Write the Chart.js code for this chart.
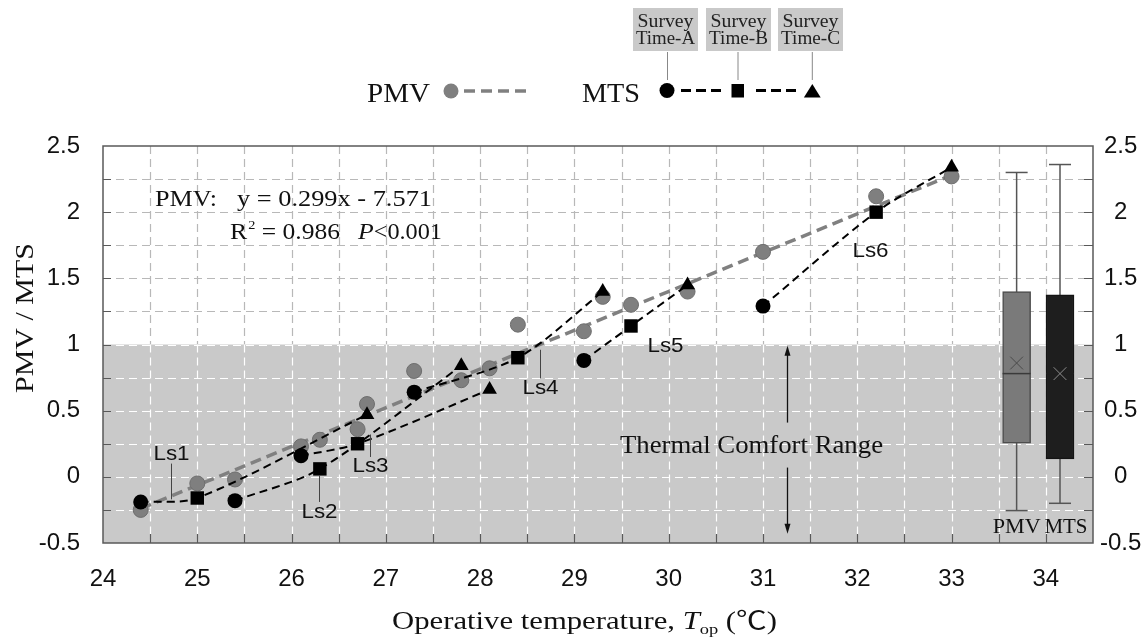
<!DOCTYPE html>
<html>
<head>
<meta charset="utf-8">
<script src="https://cdn.jsdelivr.net/npm/chart.js@4.4.1/dist/chart.umd.min.js"></script>
<style>
  html, body { margin: 0; padding: 0; background: #fff; }
</style>
</head>
<body>
<canvas id="chart" width="1147" height="638"></canvas>
<script>
// PMV points (operative temperature, PMV)
const pmvTemp  = [24.4, 25.0, 25.4, 26.1, 26.3, 26.7, 26.8, 27.3, 27.8, 28.1, 28.4, 29.1, 29.3, 29.6, 30.2, 31.0, 32.2, 33.0];
const pmvValue = [-0.25, -0.05, -0.02, 0.23, 0.28, 0.36, 0.55, 0.80, 0.73, 0.82, 1.15, 1.10, 1.36, 1.30, 1.40, 1.70, 2.12, 2.27];

// fitted PMV line (y = 0.299x - 7.571), end points as drawn
const pmvFitTemp  = [24.4, 33.0];
const pmvFitValue = [-0.24, 2.28];

// MTS for the six lines Ls1..Ls6 at survey times A, B, C
const lsNames  = ['Ls1', 'Ls2', 'Ls3', 'Ls4', 'Ls5', 'Ls6'];
const mtsTempA = [24.4, 25.4, 26.1, 27.3, 29.1, 31.0];
const mtsA     = [-0.19, -0.18, 0.16, 0.64, 0.88, 1.29];
const mtsTempB = [25.0, 26.3, 26.7, 28.4, 29.6, 32.2];
const mtsB     = [-0.16, 0.06, 0.25, 0.90, 1.14, 2.00];
const mtsTempC = [26.8, 27.8, 28.1, 29.3, 30.2, 33.0];
const mtsC     = [0.47, 0.84, 0.66, 1.40, 1.45, 2.34];

// box plot summaries
const boxNames  = ['PMV', 'MTS'];
const boxPos    = [33.69, 34.15];
const boxMin    = [-0.255, -0.20];
const boxQ1     = [0.255, 0.136];
const boxMedian = [0.78, 0.78];
const boxQ3     = [1.40, 1.375];
const boxMax    = [2.30, 2.36];
const boxMean   = [0.86, 0.78];

const comfortRange = [-0.5, 1];

const SERIF = '"Liberation Serif", "Times New Roman", "Noto Sans CJK SC", serif';
const SANS = '"Liberation Sans", Arial, sans-serif';

// text helper, optional horizontal fit to a width
function drawText(ctx, s, x, y, font, opt) {
    opt = opt || {};
    ctx.save();
    ctx.font = font;
    ctx.fillStyle = opt.color || '#111';
    ctx.textBaseline = opt.baseline || 'alphabetic';
    ctx.textAlign = opt.align || 'left';
    const w = ctx.measureText(s).width;
    const sx = opt.width ? opt.width / w : (opt.stretch || 1);
    ctx.translate(x, y);
    if (opt.rotate) ctx.rotate(opt.rotate);
    ctx.scale(sx, 1);
    ctx.fillText(s, 0, 0);
    ctx.restore();
    return w * sx;
}

function dashSeg(ctx, x1, x2, y, dash, gap) {
    for (let p = x1; p < x2; p += dash + gap) {
        ctx.beginPath();
        ctx.moveTo(p, y);
        ctx.lineTo(Math.min(p + dash, x2), y);
        ctx.stroke();
    }
}

const decor = {
    id: 'decor',
    beforeDatasetsDraw(chart) {
        const { ctx, chartArea: a, scales: { x, y } } = chart;
        ctx.save();
        const yTop = y.getPixelForValue(comfortRange[1]);
        const yBot = y.getPixelForValue(comfortRange[0]);
        ctx.fillStyle = '#c9c9c9';
        ctx.fillRect(a.left, yTop, a.right - a.left, yBot - yTop);

        ctx.lineWidth = 1.2;
        ctx.setLineDash([8, 5]);
        y.ticks.forEach(t => {
            if (t.value <= y.min || t.value >= y.max) return;
            const py = Math.round(y.getPixelForValue(t.value)) + 0.5;
            ctx.strokeStyle = t.value <= comfortRange[1] ? '#ffffff' : '#b8b8b8';
            ctx.beginPath(); ctx.moveTo(a.left, py); ctx.lineTo(a.right, py); ctx.stroke();
        });
        x.ticks.forEach(t => {
            if (t.value <= x.min || t.value >= x.max) return;
            const px = Math.round(x.getPixelForValue(t.value)) + 0.5;
            ctx.strokeStyle = '#b8b8b8';
            ctx.beginPath(); ctx.moveTo(px, a.top); ctx.lineTo(px, yTop); ctx.stroke();
            ctx.strokeStyle = '#ffffff';
            ctx.beginPath(); ctx.moveTo(px, yTop); ctx.lineTo(px, a.bottom); ctx.stroke();
        });
        ctx.restore();
    },
    afterDatasetsDraw(chart) {
        const { ctx, chartArea: a, scales: { x, y } } = chart;
        ctx.save();

        // frame and inner ticks
        ctx.strokeStyle = '#595959';
        ctx.lineWidth = 1.5;
        ctx.strokeRect(a.left, a.top, a.right - a.left, a.bottom - a.top);
        ctx.lineWidth = 1.2;
        y.ticks.forEach(t => {
            if (t.value <= y.min || t.value >= y.max) return;
            const py = Math.round(y.getPixelForValue(t.value)) + 0.5;
            ctx.beginPath();
            ctx.moveTo(a.left, py); ctx.lineTo(a.left + 8, py);
            ctx.moveTo(a.right - 9, py); ctx.lineTo(a.right, py);
            ctx.stroke();
        });
        x.ticks.forEach(t => {
            if (t.value <= x.min || t.value >= x.max) return;
            const px = Math.round(x.getPixelForValue(t.value)) + 0.5;
            ctx.beginPath(); ctx.moveTo(px, a.bottom); ctx.lineTo(px, a.bottom - 9); ctx.stroke();
        });

        // regression text
        drawText(ctx, 'PMV:', 155, 206, '23px ' + SERIF, { width: 62 });
        drawText(ctx, 'y = 0.299x - 7.571', 237, 206, '23px ' + SERIF, { width: 195 });
        let cx = 230;
        cx += drawText(ctx, 'R', cx, 239, '23px ' + SERIF, { stretch: 1.12 });
        cx += drawText(ctx, '2', cx + 1, 229, '13px ' + SERIF, { stretch: 1.1 }) + 1;
        drawText(ctx, ' = 0.986', cx, 239, '23px ' + SERIF, { width: 340 - cx });
        cx = 358;
        cx += drawText(ctx, 'P', cx, 239, 'italic 23px ' + SERIF, { stretch: 1.12 });
        drawText(ctx, '<0.001', cx, 239, '23px ' + SERIF, { width: 442 - cx });

        // thermal comfort range
        drawText(ctx, 'Thermal Comfort Range', 620, 453, '26px ' + SERIF, { width: 263 });
        const ax = Math.round(x.getPixelForValue(31.25)) + 0.5;
        ctx.strokeStyle = '#111'; ctx.fillStyle = '#111'; ctx.lineWidth = 1.3;
        const up1 = y.getPixelForValue(0.41), up2 = y.getPixelForValue(0.99);
        const dn1 = y.getPixelForValue(0.07), dn2 = y.getPixelForValue(-0.43);
        ctx.beginPath(); ctx.moveTo(ax, up1); ctx.lineTo(ax, up2 + 8); ctx.stroke();
        ctx.beginPath(); ctx.moveTo(ax, up2); ctx.lineTo(ax - 3, up2 + 10); ctx.lineTo(ax + 3, up2 + 10); ctx.closePath(); ctx.fill();
        ctx.beginPath(); ctx.moveTo(ax, dn1); ctx.lineTo(ax, dn2 - 8); ctx.stroke();
        ctx.beginPath(); ctx.moveTo(ax, dn2); ctx.lineTo(ax - 3, dn2 - 10); ctx.lineTo(ax + 3, dn2 - 10); ctx.closePath(); ctx.fill();

        // Ls labels with leader lines
        const lsLabels = [
            { tx: 24.72, ty: 0.166, l1: 0.10, l2: -0.17 },
            { tx: 26.29, ty: -0.27, l1: 0.01, l2: -0.19 },
            { tx: 26.83, ty: 0.08, l1: 0.32, l2: 0.15 },
            { tx: 28.63, ty: 0.67, l1: 0.96, l2: 0.745 },
            { tx: 29.96, ty: 0.985 },
            { tx: 32.13, ty: 1.70 }
        ];
        ctx.strokeStyle = '#444'; ctx.lineWidth = 1;
        lsLabels.forEach((p, i) => {
            const px = Math.round(x.getPixelForValue(p.tx)) + 0.5;
            if (p.l1 !== undefined) {
                ctx.beginPath();
                ctx.moveTo(px, y.getPixelForValue(p.l1));
                ctx.lineTo(px, y.getPixelForValue(p.l2));
                ctx.stroke();
            }
            drawText(ctx, lsNames[i], px, y.getPixelForValue(p.ty), '20px ' + SANS,
                { align: 'center', baseline: 'middle', stretch: 1.12, color: '#111' });
        });

        // box labels
        drawText(ctx, boxNames[0], x.getPixelForValue(boxPos[0]), 533, '21px ' + SERIF, { align: 'center', width: 48 });
        drawText(ctx, boxNames[1], x.getPixelForValue(boxPos[1]) + 6, 533, '21px ' + SERIF, { align: 'center', width: 43 });

        ctx.restore();
    },
    afterDraw(chart) {
        const { ctx } = chart;
        ctx.save();
        // axis titles
        drawText(ctx, 'PMV / MTS', 33, 318, '26px ' + SERIF, { align: 'center', rotate: -Math.PI / 2, width: 150 });
        const parts = [
            { s: 'Operative temperature, ', f: '25px ' + SERIF, dy: 0 },
            { s: 'T', f: 'italic 25px ' + SERIF, dy: 0 },
            { s: 'op', f: '15px ' + SERIF, dy: 5 },
            { s: ' (\u2103)', f: '25px ' + SERIF, dy: 0 }
        ];
        let total = 0;
        parts.forEach(p => { ctx.font = p.f; p.w = ctx.measureText(p.s).width; total += p.w; });
        const k = 385 / total;
        let px = 392;
        parts.forEach(p => { drawText(ctx, p.s, px, 629 + p.dy, p.f, { stretch: k }); px += p.w * k; });

        // legend
        drawText(ctx, 'PMV', 367, 101.5, '28px ' + SERIF, { width: 63 });
        ctx.fillStyle = '#7f7f7f';
        ctx.beginPath(); ctx.arc(451, 91, 7.5, 0, Math.PI * 2); ctx.fill();
        ctx.strokeStyle = '#808080'; ctx.lineWidth = 3.5;
        dashSeg(ctx, 464, 528, 91, 11, 6);

        drawText(ctx, 'MTS', 582, 101.5, '28px ' + SERIF, { width: 58 });
        ctx.fillStyle = '#000'; ctx.strokeStyle = '#000'; ctx.lineWidth = 3;
        ctx.beginPath(); ctx.arc(667, 90.5, 7.5, 0, Math.PI * 2); ctx.fill();
        dashSeg(ctx, 681, 725, 90.5, 10, 5);
        ctx.fillRect(731.5, 84, 12.5, 13.5);
        dashSeg(ctx, 756, 798, 90.5, 10, 5);
        ctx.beginPath(); ctx.moveTo(812.3, 84); ctx.lineTo(820.7, 97.5); ctx.lineTo(803.9, 97.5); ctx.closePath(); ctx.fill();

        const boxes = [
            { x: 633, t: 'Time-A', lx: 667.5 },
            { x: 706, t: 'Time-B', lx: 738 },
            { x: 778, t: 'Time-C', lx: 812.3 }
        ];
        boxes.forEach(b => {
            ctx.fillStyle = '#c9c9c9';
            ctx.fillRect(b.x, 8, 65, 43);
            drawText(ctx, 'Survey', b.x + 32.5, 26.5, '18px ' + SERIF, { align: 'center', width: 56, color: '#222' });
            drawText(ctx, b.t, b.x + 32.5, 43.5, '18px ' + SERIF, { align: 'center', width: 59, color: '#222' });
            ctx.strokeStyle = '#888'; ctx.lineWidth = 1;
            ctx.beginPath(); ctx.moveTo(b.lx, 52); ctx.lineTo(b.lx, 80); ctx.stroke();
        });
        ctx.restore();
    }
};

const datasets = [];

datasets.push({
    type: 'line',
    data: pmvFitTemp.map((t, i) => ({ x: t, y: pmvFitValue[i] })),
    borderColor: '#808080', borderWidth: 3.5, borderDash: [11, 6],
    pointRadius: 0, order: 10
});

datasets.push({
    type: 'scatter',
    data: pmvTemp.map((t, i) => ({ x: t, y: pmvValue[i] })),
    backgroundColor: '#7f7f7f', borderColor: '#6e6e6e', borderWidth: 1,
    pointRadius: 7.5, order: 9
});

lsNames.forEach((name, i) => {
    datasets.push({
        type: 'line', label: name,
        data: [
            { x: mtsTempA[i], y: mtsA[i] },
            { x: mtsTempB[i], y: mtsB[i] },
            { x: mtsTempC[i], y: mtsC[i] }
        ],
        borderColor: '#000', borderWidth: 2, borderDash: [8, 5], tension: 0.3,
        pointStyle: ['circle', 'rect', 'triangle'], pointRadius: [7.5, 9.5, 8.5],
        pointBackgroundColor: '#000', pointBorderColor: '#000', pointBorderWidth: 0,
        order: 5
    });
});

boxNames.forEach((name, i) => {
    datasets.push({
        type: 'line',
        data: [{ x: boxPos[i], y: boxMin[i] }, { x: boxPos[i], y: boxMax[i] }],
        borderColor: '#555', borderWidth: 1.5, pointRadius: 0, order: 4
    });
});

datasets.push({
    type: 'scatter',
    data: boxPos.map((p, i) => ({ x: p, y: boxMin[i] })).concat(boxPos.map((p, i) => ({ x: p, y: boxMax[i] }))),
    pointStyle: 'line', pointRadius: 11, borderColor: '#555', borderWidth: 1.5, order: 4
});

datasets.push({
    type: 'bar',
    data: boxPos.map((p, i) => ({ x: p, y: [boxQ1[i], boxQ3[i]] })),
    backgroundColor: ['#7a7a7a', '#1e1e1e'],
    borderColor: ['#4d4d4d', '#141414'],
    borderWidth: 1.5, borderSkipped: false, barThickness: 28, order: 3
});

datasets.push({
    type: 'scatter',
    data: boxPos.map((p, i) => ({ x: p, y: boxMedian[i] })),
    pointStyle: 'line', pointRadius: 14, borderColor: ['#3a3a3a', '#1e1e1e'], borderWidth: 1.5, order: 2
});

datasets.push({
    type: 'scatter',
    data: boxPos.map((p, i) => ({ x: p, y: boxMean[i] })),
    pointStyle: 'crossRot', pointRadius: 9, borderColor: ['#4a4a4a', '#8c8c8c'], borderWidth: 1, order: 1
});

const tickFont = { family: SANS, size: 24 };
const halfStep = v => Math.abs(v * 2 - Math.round(v * 2)) < 1e-9;

new Chart(document.getElementById('chart').getContext('2d'), {
    type: 'scatter',
    data: { datasets: datasets },
    options: {
        responsive: false,
        animation: false,
        events: [],
        layout: { padding: { top: 146, left: 0, right: 0, bottom: 0 } },
        plugins: { legend: { display: false }, tooltip: { enabled: false } },
        scales: {
            x: {
                type: 'linear', min: 24, max: 34.5, offset: false,
                grid: { display: false, drawTicks: false, offset: false },
                border: { display: false },
                ticks: {
                    stepSize: 0.5, padding: 22, color: '#111', font: tickFont,
                    autoSkip: false, maxRotation: 0,
                    callback: v => Number.isInteger(v) ? String(v) : ''
                },
                afterFit: s => { s.height = 95; }
            },
            y: {
                type: 'linear', position: 'left', min: -0.5, max: 2.5,
                grid: { display: false, drawTicks: false },
                border: { display: false },
                ticks: {
                    stepSize: 0.25, padding: 23, color: '#111', font: tickFont, autoSkip: false,
                    callback: v => halfStep(v) ? String(v) : ''
                },
                afterFit: s => { s.width = 103; }
            },
            y2: {
                type: 'linear', position: 'right', min: -0.5, max: 2.5,
                grid: { display: false, drawTicks: false },
                border: { display: false },
                ticks: {
                    stepSize: 0.25, padding: 7, crossAlign: 'center', color: '#111', font: tickFont, autoSkip: false,
                    callback: v => halfStep(v) ? String(v) : ''
                },
                afterFit: s => { s.width = 54; }
            }
        }
    },
    plugins: [decor]
});
</script>
</body>
</html>
